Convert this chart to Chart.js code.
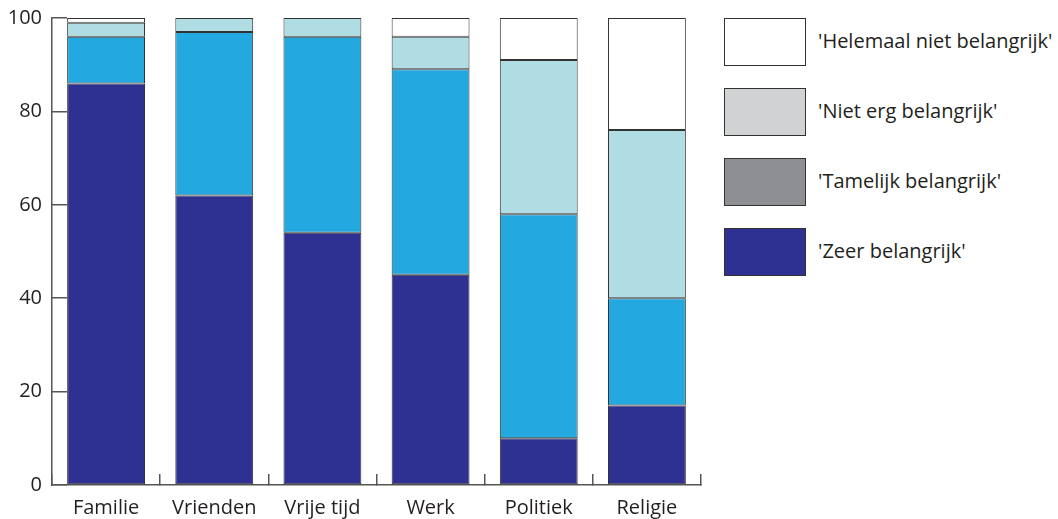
<!DOCTYPE html>
<html>
<head>
<meta charset="utf-8">
<script src="https://cdn.jsdelivr.net/npm/chart.js@4"></script>
<style>
  body { margin: 0; background: #fff; font-family: "Open Sans", sans-serif; }
  #wrap { position: relative; width: 1058px; height: 519px; }
  #chartBox { position: absolute; left: 0; top: 0; width: 705px; height: 519px; }
  .item { position: absolute; left: 724px; height: 47px; }
  .box { position: absolute; left: 0; top: 0; width: 80px; height: 46px; border: 1px solid #333; }
  .lbl { position: absolute; left: 94px; top: 9px; white-space: nowrap; font-size: 20px; color: #231f20; }
</style>
</head>
<body>
<div id="wrap">
  <div id="chartBox"><canvas id="stackChart"></canvas></div>
  <div id="legend"></div>
</div>
<script>
const categories = ['Familie', 'Vrienden', 'Vrije tijd', 'Werk', 'Politiek', 'Religie'];
const zeerBelangrijk = [86, 62, 54, 45, 10, 17];
const tamelijkBelangrijk = [10, 35, 42, 44, 48, 23];
const nietErgBelangrijk = [3, 3, 4, 7, 33, 36];
const helemaalNietBelangrijk = [1, 0, 0, 4, 9, 24];
const yTicks = [0, 20, 40, 60, 80, 100];

const seriesNames = ["'Zeer belangrijk'", "'Tamelijk belangrijk'", "'Niet erg belangrijk'", "'Helemaal niet belangrijk'"];
const barColors = ['#2e3192', '#23a8e0', '#b0dde3', '#ffffff'];
const legendColors = ['#2e3192', '#8e8f92', '#d1d2d4', '#ffffff'];

document.addEventListener("DOMContentLoaded", () => {
    const seriesData = [zeerBelangrijk, tamelijkBelangrijk, nietErgBelangrijk, helemaalNietBelangrijk];

    const makeDataset = (i) => ({
        label: seriesNames[i],
        data: seriesData[i],
        backgroundColor: barColors[i],
        borderColor: '#333',
        borderWidth: 1,
        borderSkipped: false,
        categoryPercentage: 0.72,
        barPercentage: 1
    });

    const ctx = document.getElementById('stackChart').getContext('2d');
    new Chart(ctx, {
        type: 'bar',
        data: {
            labels: categories,
            datasets: [0, 1, 2, 3].map(makeDataset)
        },
        options: {
            responsive: true,
            maintainAspectRatio: false,
            animation: false,
            layout: { padding: { top: 18, right: 4, left: 0, bottom: 0 } },
            plugins: { legend: { display: false }, tooltip: { enabled: false } },
            scales: {
                x: {
                    stacked: true,
                    grid: { offset: true, drawOnChartArea: false, tickLength: -11, color: '#555', lineWidth: 1.5 },
                    border: { color: '#555', width: 1.5 },
                    ticks: { padding: 22, color: '#231f20', font: { family: 'Open Sans', size: 20 } },
                    afterFit: (scale) => { scale.height = 34; }
                },
                y: {
                    stacked: true,
                    min: 0,
                    max: 100,
                    afterBuildTicks: (scale) => { scale.ticks = yTicks.map(v => ({ value: v })); },
                    grid: { drawOnChartArea: false, tickLength: -15, color: '#555', lineWidth: 1.5 },
                    border: { color: '#555', width: 1.5 },
                    ticks: { padding: 25, color: '#231f20', font: { family: 'Open Sans', size: 20 } },
                    afterFit: (scale) => {
                        scale.width = 52;
                        scale.paddingTop = 0;
                        scale.paddingBottom = 0;
                    }
                }
            }
        }
    });

    // legend, top to bottom in reverse series order
    const legend = document.getElementById('legend');
    [3, 2, 1, 0].forEach((i, row) => {
        const item = document.createElement('div');
        item.className = 'item';
        item.style.top = (18 + row * 70) + 'px';
        item.innerHTML = '<div class="box" style="background:' + legendColors[i] + '"></div>' +
                         '<div class="lbl">' + seriesNames[i] + '</div>';
        legend.appendChild(item);
    });
});
</script>
</body>
</html>
